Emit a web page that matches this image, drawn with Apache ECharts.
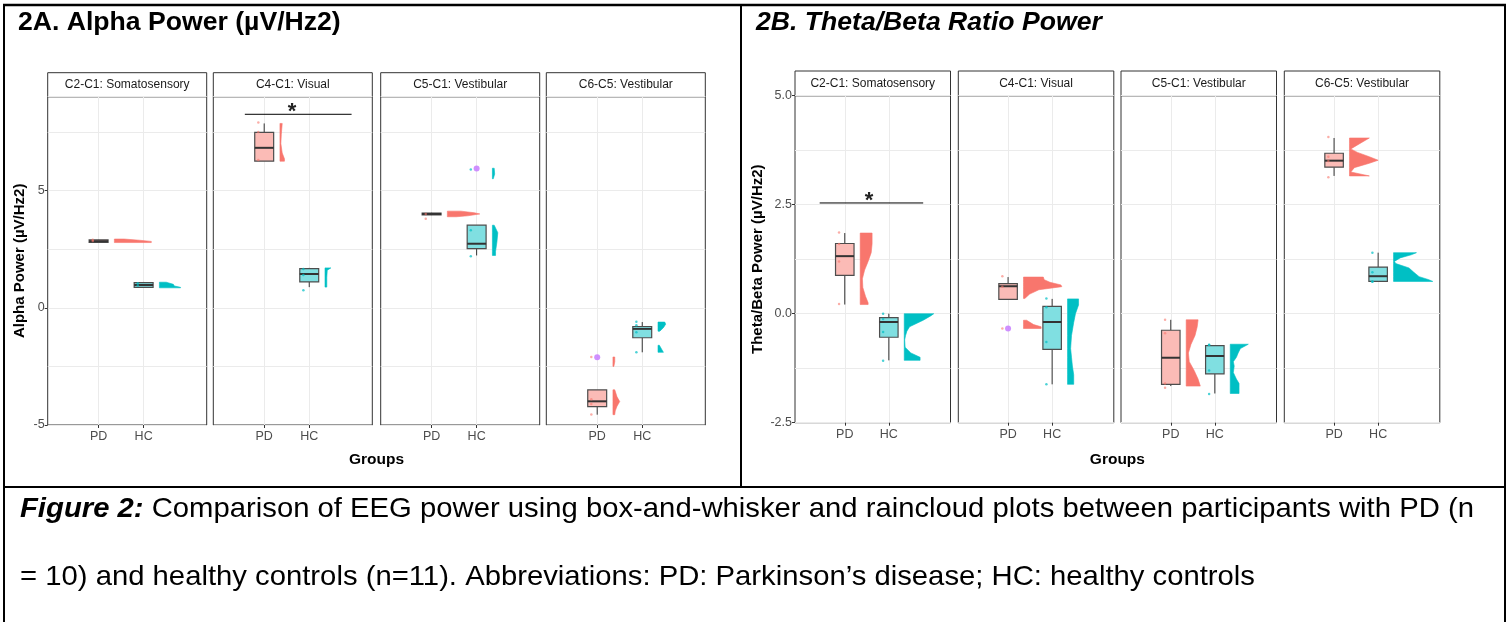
<!DOCTYPE html>
<html>
<head>
<meta charset="utf-8">
<title>Figure 2</title>
<script src="https://cdn.jsdelivr.net/npm/echarts@6/dist/echarts.min.js"></script>
<style>
html, body { margin: 0; padding: 0; background: #fff; }
#main { width: 1511px; height: 622px; }
</style>
</head>
<body>
<div id="main"></div>
<script>
// facets and groups
var facetNames = ['C2-C1: Somatosensory', 'C4-C1: Visual', 'C5-C1: Vestibular', 'C6-C5: Vestibular'];
var groupNames = ['PD', 'HC'];
var xTicks = [1, 2];
var alphaTicks = [-5, 0, 5];
var ratioTicks = [-2.5, 0, 2.5, 5];

// box stats per facet: [min, q1, median, q3, max]
var alphaBoxPD = [[2.78, 2.79, 2.84, 2.90, 2.91], [6.25, 6.25, 6.82, 7.48, 7.86], [3.95, 3.96, 4.00, 4.04, 4.05], [-4.56, -4.22, -3.99, -3.50, -3.50]];
var alphaBoxHC = [[0.85, 0.87, 0.97, 1.07, 1.10], [0.88, 1.10, 1.44, 1.67, 1.70], [2.23, 2.52, 2.73, 3.52, 3.52], [-1.90, -1.28, -0.90, -0.80, -0.61]];
var ratioBoxPD = [[0.21, 0.88, 1.32, 1.61, 1.85], [0.33, 0.33, 0.63, 0.69, 0.84], [-1.66, -1.62, -1.01, -0.38, -0.14], [3.16, 3.36, 3.51, 3.68, 4.03]];
var ratioBoxHC = [[-1.07, -0.54, -0.19, -0.09, 0.00], [-1.62, -0.82, -0.19, 0.17, 0.34], [-1.83, -1.38, -0.97, -0.73, -0.72], [0.74, 0.74, 0.86, 1.07, 1.40]];

// raw points per facet
var alphaPtsPD = [[2.85, 2.90], [7.90, 7.50, 6.30], [3.80, 4.00], [-2.10, -3.90, -4.10, -4.55]];
var alphaPtsHC = [[1.05, 0.95], [0.75, 1.40, 1.65], [5.90, 3.30, 2.20], [-0.60, -0.75, -1.05, -1.90]];
var ratioPtsPD = [[1.86, 1.60, 1.20, 0.22], [0.86, 0.62, -0.34], [-0.14, -0.45, -1.60, -1.70], [4.05, 3.60, 3.50, 3.13]];
var ratioPtsHC = [[0.00, -0.12, -0.42, -1.08], [0.35, 0.15, -0.65, -1.62], [-0.71, -0.72, -1.30, -1.84], [1.40, 0.95, 0.74, 0.73]];

// outliers: [facet, group, value]
var alphaOutliers = [[2, 1, 5.94], [3, 0, -2.11]];
var ratioOutliers = [[1, 0, -0.34]];

// significance: [facet, x from, x to, y, star x]
var alphaSig = [[1, 0.57, 2.94, 8.25, 1.62]];
var ratioSig = [[0, 0.43, 2.78, 2.54, 1.55]];

// half-violin profiles per facet: [value, density width]
var alphaCloudPD = [
  [[2.93, 0.22], [2.88, 0.55], [2.83, 0.82], [2.78, 0.82]],
  [[7.86, 0.05], [7.4, 0.03], [7.0, 0.02], [6.6, 0.05], [6.35, 0.1], [6.25, 0.1]],
  [[4.12, 0.3], [4.05, 0.6], [4.0, 0.72], [3.92, 0.45], [3.88, 0.2]],
  [[-2.1, 0.04], [-2.3, 0.04], [-2.5, 0.02], [-2.6, 0], [-3.4, 0], [-3.5, 0.04], [-3.8, 0.09], [-4.0, 0.15], [-4.2, 0.09], [-4.4, 0.05], [-4.56, 0.04]]
];
var alphaCloudHC = [
  [[1.09, 0.15], [1.0, 0.31], [0.93, 0.33], [0.87, 0.47], [0.85, 0.47]],
  [[1.70, 0.13], [1.6, 0.05], [1.3, 0.04], [1.0, 0.04], [0.88, 0.04]],
  [[5.95, 0.04], [5.7, 0.05], [5.5, 0.02], [5.4, 0], [3.6, 0], [3.52, 0.04], [3.2, 0.12], [2.8, 0.1], [2.4, 0.07], [2.23, 0.07]],
  [[-0.61, 0.15], [-0.7, 0.17], [-0.85, 0.12], [-1.0, 0.04], [-1.3, 0], [-1.5, 0], [-1.6, 0.03], [-1.8, 0.09], [-1.9, 0.12]]
];
var ratioCloudPD = [
  [[1.85, 0.27], [1.6, 0.27], [1.4, 0.25], [1.2, 0.18], [1.0, 0.1], [0.8, 0.05], [0.6, 0.06], [0.4, 0.12], [0.25, 0.18], [0.21, 0.18]],
  [[0.84, 0.45], [0.78, 0.47], [0.72, 0.6], [0.66, 0.85], [0.62, 0.87], [0.55, 0.35], [0.45, 0.14], [0.35, 0.03], [0.2, 0], [-0.1, 0], [-0.15, 0.07], [-0.25, 0.23], [-0.3, 0.4], [-0.34, 0.4]],
  [[-0.14, 0.27], [-0.3, 0.25], [-0.5, 0.2], [-0.7, 0.11], [-0.9, 0.05], [-1.1, 0.07], [-1.3, 0.18], [-1.5, 0.27], [-1.66, 0.32]],
  [[4.03, 0.45], [3.9, 0.23], [3.78, 0.03], [3.7, 0.18], [3.6, 0.45], [3.52, 0.65], [3.45, 0.45], [3.35, 0.11], [3.25, 0.03], [3.16, 0.45]]
];
var ratioCloudHC = [
  [[0.0, 0.67], [-0.05, 0.6], [-0.15, 0.43], [-0.3, 0.12], [-0.4, 0.06], [-0.5, 0.03], [-0.6, 0.01], [-0.77, 0.02], [-0.9, 0.15], [-1.0, 0.36], [-1.07, 0.36]],
  [[0.34, 0.25], [0.2, 0.25], [0.0, 0.18], [-0.2, 0.14], [-0.5, 0.09], [-0.8, 0.07], [-1.0, 0.09], [-1.2, 0.11], [-1.4, 0.14], [-1.62, 0.14]],
  [[-0.7, 0.41], [-0.8, 0.23], [-0.9, 0.18], [-1.0, 0.14], [-1.1, 0.07], [-1.2, 0.09], [-1.35, 0.07], [-1.5, 0.14], [-1.6, 0.2], [-1.7, 0.2], [-1.83, 0.2]],
  [[1.40, 0.52], [1.35, 0.4], [1.28, 0.15], [1.2, 0.02], [1.15, 0.05], [1.05, 0.35], [0.95, 0.46], [0.85, 0.58], [0.78, 0.8], [0.74, 0.89]]
];

var FONT = 'Arial, "Liberation Sans", Helvetica, sans-serif';
var PD_COL = '#F8766D', HC_COL = '#00BFC4';
var PD_FILL = '#FBBBB6', HC_FILL = '#80DFE1';
var OUT_COL = '#C77CFF';
var X_MIN = -0.13, X_MAX = 3.40;
var CLOUD_OFF = 0.35, BOX_HW = 0.21, JIT = 0.13;

var panels = [
  {
    lefts: [47.7, 213.3, 380.7, 546.3], width: 159, top: 96.7, bottom: 425, stripTop: 72.7,
    min: -5, max: 9, step: 2.5, ticks: alphaTicks,
    fmt: function (v) { return String(v); },
    boxPD: alphaBoxPD, boxHC: alphaBoxHC, ptsPD: alphaPtsPD, ptsHC: alphaPtsHC,
    cloudPD: alphaCloudPD, cloudHC: alphaCloudHC, out: alphaOutliers, sig: alphaSig,
    title: '2A. Alpha Power (µV/Hz2)', titleX: 18, italic: false,
    yTitle: 'Alpha Power (µV/Hz2)', yTitleX: 20
  },
  {
    lefts: [795, 958.3, 1121, 1284.3], width: 155.5, top: 95.7, bottom: 422.7, stripTop: 71,
    min: -2.5, max: 5, step: 1.25, ticks: ratioTicks,
    fmt: function (v) { return v.toFixed(1); },
    boxPD: ratioBoxPD, boxHC: ratioBoxHC, ptsPD: ratioPtsPD, ptsHC: ratioPtsHC,
    cloudPD: ratioCloudPD, cloudHC: ratioCloudHC, out: ratioOutliers, sig: ratioSig,
    title: '2B. Theta/Beta Ratio Power', titleX: 756, italic: true,
    yTitle: 'Theta/Beta Power (µV/Hz2)', yTitleX: 758
  }
];

function renderBox(params, api) {
  var x = api.value(0);
  var lo = api.value(1), q1 = api.value(2), md = api.value(3), q3 = api.value(4), hi = api.value(5);
  var tl = api.coord([x - BOX_HW, q3]);
  var br = api.coord([x + BOX_HW, q1]);
  var c = api.coord([x, md]);
  var top = api.coord([x, hi]);
  var bot = api.coord([x, lo]);
  var line = { stroke: '#333', lineWidth: 1 };
  return {
    type: 'group',
    children: [
      { type: 'line', shape: { x1: c[0], y1: top[1], x2: c[0], y2: tl[1] }, style: line },
      { type: 'line', shape: { x1: c[0], y1: br[1], x2: c[0], y2: bot[1] }, style: line },
      { type: 'rect', shape: { x: tl[0], y: tl[1], width: br[0] - tl[0], height: br[1] - tl[1] },
        style: { fill: x === 1 ? PD_FILL : HC_FILL, stroke: '#4d4d4d', lineWidth: 1.2 } },
      { type: 'line', shape: { x1: tl[0], y1: c[1], x2: br[0], y2: c[1] }, style: { stroke: '#333', lineWidth: 2 } }
    ]
  };
}

// one polygon per run of non-zero density, so gaps stay empty
function cloudRenderer(profiles) {
  return function (params, api) {
    var x = api.value(0);
    var prof = profiles[api.value(1)];
    var col = x === 1 ? PD_COL : HC_COL;
    var runs = [], cur = [];
    prof.forEach(function (d) {
      if (d[1] > 0) { cur.push(d); }
      else if (cur.length) { runs.push(cur); cur = []; }
    });
    if (cur.length) runs.push(cur);
    var children = runs.map(function (run) {
      var pts = [];
      for (var i = 0; i < run.length; i++) pts.push(api.coord([x + CLOUD_OFF, run[i][0]]));
      for (var j = run.length - 1; j >= 0; j--) pts.push(api.coord([x + CLOUD_OFF + run[j][1], run[j][0]]));
      return { type: 'polygon', shape: { points: pts }, style: { fill: col, stroke: col, lineWidth: 0.6 } };
    });
    return { type: 'group', children: children };
  };
}

function renderSig(params, api) {
  var a = api.coord([api.value(0), api.value(2)]);
  var b = api.coord([api.value(1), api.value(2)]);
  var s = api.coord([api.value(3), api.value(2)]);
  return {
    type: 'group',
    children: [
      { type: 'line', shape: { x1: a[0], y1: a[1], x2: b[0], y2: b[1] }, style: { stroke: '#000', lineWidth: 1 } },
      { type: 'text', x: s[0], y: s[1] - 2, style: { text: '*', font: 'bold 22px ' + FONT, fill: '#222', align: 'center', verticalAlign: 'middle' } }
    ]
  };
}

var grids = [], xAxes = [], yAxes = [], series = [], graphics = [];

panels.forEach(function (p) {
  p.lefts.forEach(function (left, f) {
    var gi = grids.length;
    grids.push({
      left: left, top: p.top, width: p.width, height: p.bottom - p.top,
      show: true, borderColor: '#333', borderWidth: 1, backgroundColor: '#fff',
      outerBoundsMode: 'none'
    });
    xAxes.push({
      gridIndex: gi, type: 'value', position: 'bottom', min: X_MIN, max: X_MAX,
      axisLine: { show: false, onZero: false },
      axisTick: { show: true, length: 3, customValues: xTicks, lineStyle: { color: '#333' } },
      axisLabel: { customValues: xTicks, formatter: function (v) { return groupNames[Math.round(v) - 1]; },
        color: '#4d4d4d', fontSize: 12.5, fontFamily: FONT, margin: 5 },
      splitLine: { show: true, lineStyle: { color: '#ebebeb', width: 1 } }
    });
    var yi = yAxes.length;
    yAxes.push({
      gridIndex: gi, type: 'value', position: 'left', min: p.min, max: p.max, interval: p.step,
      axisLine: { show: false, onZero: false }, axisTick: { show: false }, axisLabel: { show: false },
      splitLine: { show: true, lineStyle: { color: '#ebebeb', width: 1 } }
    });
    if (f === 0) {
      yAxes.push({
        gridIndex: gi, type: 'value', position: 'left', min: p.min, max: p.max,
        axisLine: { show: false, onZero: false },
        axisTick: { show: true, length: 3, customValues: p.ticks, lineStyle: { color: '#333' } },
        axisLabel: { customValues: p.ticks, formatter: p.fmt, color: '#4d4d4d', fontSize: 12.5, fontFamily: FONT, margin: 3 },
        splitLine: { show: false }
      });
    }

    series.push({
      type: 'custom', xAxisIndex: gi, yAxisIndex: yi, silent: true, z: 2,
      renderItem: cloudRenderer([p.cloudPD[f], p.cloudHC[f]]),
      data: [[1, 0], [2, 1]]
    });
    series.push({
      type: 'custom', xAxisIndex: gi, yAxisIndex: yi, silent: true, z: 3,
      renderItem: renderBox,
      data: [[1].concat(p.boxPD[f]), [2].concat(p.boxHC[f])]
    });
    series.push({
      type: 'scatter', xAxisIndex: gi, yAxisIndex: yi, silent: true, z: 4,
      symbolSize: 2.5, itemStyle: { color: PD_COL, opacity: 0.6 },
      data: p.ptsPD[f].map(function (v) { return [1 - JIT, v]; })
    });
    series.push({
      type: 'scatter', xAxisIndex: gi, yAxisIndex: yi, silent: true, z: 4,
      symbolSize: 2.5, itemStyle: { color: HC_COL, opacity: 0.7 },
      data: p.ptsHC[f].map(function (v) { return [2 - JIT, v]; })
    });
    var outs = p.out.filter(function (o) { return o[0] === f; });
    if (outs.length) {
      series.push({
        type: 'scatter', xAxisIndex: gi, yAxisIndex: yi, silent: true, z: 5,
        symbolSize: 6, itemStyle: { color: OUT_COL, opacity: 0.85 },
        data: outs.map(function (o) { return [o[1] + 1, o[2]]; })
      });
    }
    var sigs = p.sig.filter(function (s) { return s[0] === f; });
    if (sigs.length) {
      series.push({
        type: 'custom', xAxisIndex: gi, yAxisIndex: yi, silent: true, z: 5,
        renderItem: renderSig,
        data: sigs.map(function (s) { return s.slice(1); })
      });
    }

    // strip
    graphics.push({
      type: 'group', x: left, y: p.stripTop,
      children: [
        { type: 'rect', shape: { x: 0, y: 0, width: p.width, height: p.top - p.stripTop },
          style: { fill: '#fff', stroke: '#333', lineWidth: 1 } },
        { type: 'text', x: p.width / 2, y: (p.top - p.stripTop) / 2,
          style: { text: facetNames[f], font: '12px ' + FONT, fill: '#1a1a1a', align: 'center', verticalAlign: 'middle' } }
      ]
    });
  });

  var midX = (p.lefts[0] + p.lefts[3] + p.width) / 2;
  graphics.push({ type: 'text', x: p.titleX, y: 23,
    style: { text: p.title, font: (p.italic ? 'italic ' : '') + 'bold 26.6px ' + FONT, fill: '#000', verticalAlign: 'middle' } });
  graphics.push({ type: 'text', x: p.yTitleX, y: (p.top + p.bottom) / 2, rotation: Math.PI / 2,
    style: { text: p.yTitle, font: 'bold 15px ' + FONT, fill: '#000', align: 'center', verticalAlign: 'middle' } });
  graphics.push({ type: 'text', x: midX, y: 460,
    style: { text: 'Groups', font: 'bold 15.5px ' + FONT, fill: '#000', align: 'center', verticalAlign: 'middle' } });
});

// figure frame
var frame = { stroke: '#000', lineWidth: 2 };
graphics.push({ type: 'line', shape: { x1: 3, y1: 5, x2: 1506, y2: 5 }, style: { stroke: '#000', lineWidth: 2.5 } });
graphics.push({ type: 'line', shape: { x1: 4, y1: 4, x2: 4, y2: 622 }, style: frame });
graphics.push({ type: 'line', shape: { x1: 1505, y1: 4, x2: 1505, y2: 622 }, style: frame });
graphics.push({ type: 'line', shape: { x1: 741, y1: 5, x2: 741, y2: 487 }, style: frame });
graphics.push({ type: 'line', shape: { x1: 4, y1: 487, x2: 1505, y2: 487 }, style: frame });

// caption
var capRich = { b: { font: 'italic bold 28px ' + FONT, fill: '#000' } };
graphics.push({ type: 'text', x: 20, y: 509, scaleX: 1.045,
  style: { text: '{b|Figure 2:} Comparison of EEG power using box-and-whisker and raincloud plots between participants with PD (n',
    rich: capRich, font: '28px ' + FONT, fill: '#000', verticalAlign: 'middle' } });
graphics.push({ type: 'text', x: 20, y: 577, scaleX: 1.045,
  style: { text: '= 10) and healthy controls (n=11). Abbreviations: PD: Parkinson’s disease; HC: healthy controls',
    font: '28px ' + FONT, fill: '#000', verticalAlign: 'middle' } });

var chart = echarts.init(document.getElementById('main'), null, { renderer: 'canvas' });
chart.setOption({
  animation: false,
  backgroundColor: '#fff',
  grid: grids,
  xAxis: xAxes,
  yAxis: yAxes,
  series: series,
  graphic: graphics
});
</script>
</body>
</html>
